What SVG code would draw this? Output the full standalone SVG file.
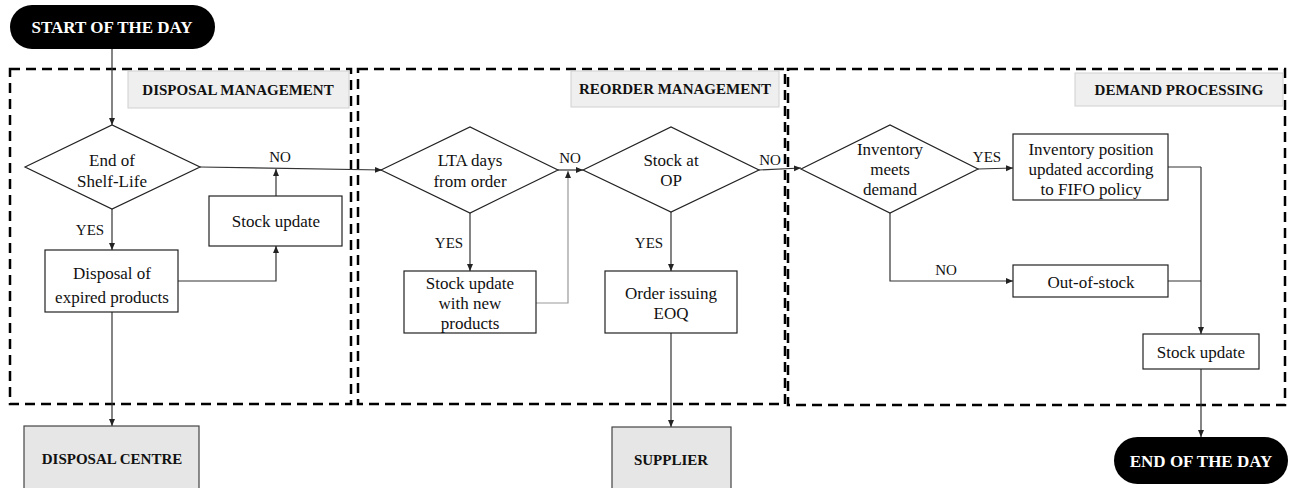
<svg xmlns="http://www.w3.org/2000/svg" width="1289" height="488" viewBox="0 0 1289 488">
<style>
.t{font-family:"Liberation Serif","Times New Roman",serif;font-size:17px;fill:#111;text-anchor:middle}
.e{font-family:"Liberation Serif","Times New Roman",serif;font-size:15px;fill:#111;text-anchor:middle}
.b{font-family:"Liberation Serif","Times New Roman",serif;font-size:15px;font-weight:bold;fill:#111;text-anchor:middle}
.w{font-family:"Liberation Serif","Times New Roman",serif;font-size:17px;font-weight:bold;fill:#fff;text-anchor:middle}
.n{fill:#fff;stroke:#222;stroke-width:1.2}
.g{fill:#e6e6e6;stroke:#444;stroke-width:1.2}
.lab{fill:#efefef;stroke:#d0d0d0;stroke-width:1}
.zone{fill:none;stroke:#000;stroke-width:2.5;stroke-dasharray:10 6}
.c{fill:none;stroke:#333;stroke-width:1.2;marker-end:url(#ah)}
.cn{fill:none;stroke:#333;stroke-width:1.2}
</style>
<defs>
<marker id="ah" markerWidth="8" markerHeight="8" refX="7" refY="4" orient="auto" markerUnits="userSpaceOnUse">
<path d="M0,1 L7,4 L0,7 Z" fill="#222"/>
</marker>
</defs>
<g id="zones">
<rect class="zone" x="10" y="69" width="341" height="335"/>
<rect class="zone" x="358" y="69" width="427" height="335"/>
<rect class="zone" x="788" y="69" width="497" height="336"/>
</g>
<g id="label-disposal"><rect class="lab" x="128" y="71" width="221" height="37"/><text class="b" x="238" y="95">DISPOSAL MANAGEMENT</text></g>
<g id="label-reorder"><rect class="lab" x="571" y="71" width="208" height="36"/><text class="b" x="675" y="94">REORDER MANAGEMENT</text></g>
<g id="label-demand"><rect class="lab" x="1075" y="73" width="208" height="33"/><text class="b" x="1179" y="95">DEMAND PROCESSING</text></g>
<g id="connectors">
<path class="c" d="M112,49 V125"/>
<path class="c" d="M200,167 L382,170"/>
<path class="c" d="M276,196 V169"/>
<path class="c" d="M112,209 V250"/>
<path class="c" d="M178,281 H276 V246"/>
<path class="c" d="M112,312 V426"/>
<path class="c" d="M470,213 V271"/>
<path class="c" d="M558,170 L583,170"/>
<path fill="none" stroke="#999" stroke-width="1.2" marker-end="url(#ah)" d="M536,303 H568 V171"/>
<path class="c" d="M671,212 V271"/>
<path class="c" d="M671,333 V427"/>
<path class="c" d="M759,170 L801,168"/>
<path class="c" d="M978,169 L1013,168"/>
<path class="c" d="M890,213 V281 H1013"/>
<path class="cn" d="M1168,167 H1201"/>
<path class="cn" d="M1168,281 H1201"/>
<path class="c" d="M1201,167 V334"/>
<path class="c" d="M1201,369 V437"/>
</g>
<g id="edge-labels">
<text class="e" x="280" y="162">NO</text>
<text class="e" x="90" y="235">YES</text>
<text class="e" x="570" y="163">NO</text>
<text class="e" x="449" y="248">YES</text>
<text class="e" x="770" y="165">NO</text>
<text class="e" x="649" y="248">YES</text>
<text class="e" x="987" y="162">YES</text>
<text class="e" x="946" y="275">NO</text>
</g>
<g id="start"><rect x="10" y="5" width="205" height="44" rx="22" fill="#000"/><text class="w" x="112" y="33">START OF THE DAY</text></g>
<g id="end-shelf-life"><polygon class="n" points="25,167 112,125 200,167 112,209"/><text class="t" x="112" y="166">End of</text><text class="t" x="112" y="187">Shelf-Life</text></g>
<g id="stock-update-1"><rect class="n" x="209" y="196" width="133" height="50"/><text class="t" x="276" y="227">Stock update</text></g>
<g id="disposal"><rect class="n" x="45" y="250" width="133" height="62"/><text class="t" x="112" y="279">Disposal of</text><text class="t" x="112" y="303">expired products</text></g>
<g id="disposal-centre"><rect class="g" x="24" y="426" width="175" height="70"/><text class="b" x="112" y="464">DISPOSAL CENTRE</text></g>
<g id="lta"><polygon class="n" points="381,170 470,127 558,170 470,213"/><text class="t" x="470" y="166">LTA days</text><text class="t" x="470" y="187">from order</text></g>
<g id="stock-update-new"><rect class="n" x="404" y="271" width="132" height="62"/><text class="t" x="470" y="289">Stock update</text><text class="t" x="470" y="309">with new</text><text class="t" x="470" y="329">products</text></g>
<g id="stock-op"><polygon class="n" points="583,170 671,127 759,170 671,212"/><text class="t" x="671" y="166">Stock at</text><text class="t" x="671" y="186">OP</text></g>
<g id="order"><rect class="n" x="605" y="271" width="132" height="62"/><text class="t" x="671" y="299">Order issuing</text><text class="t" x="671" y="319">EOQ</text></g>
<g id="supplier"><rect class="g" x="612" y="427" width="119" height="69"/><text class="b" x="671" y="465">SUPPLIER</text></g>
<g id="inv-meets"><polygon class="n" points="801,169 890,125 978,169 890,213"/><text class="t" x="890" y="155">Inventory</text><text class="t" x="890" y="175">meets</text><text class="t" x="890" y="195">demand</text></g>
<g id="inv-position"><rect class="n" x="1013" y="134" width="155" height="66"/><text class="t" x="1091" y="155">Inventory position</text><text class="t" x="1091" y="175">updated according</text><text class="t" x="1091" y="195">to FIFO policy</text></g>
<g id="out-of-stock"><rect class="n" x="1013" y="265" width="155" height="32"/><text class="t" x="1091" y="288">Out-of-stock</text></g>
<g id="stock-update-2"><rect class="n" x="1143" y="334" width="116" height="35"/><text class="t" x="1201" y="358">Stock update</text></g>
<g id="end"><rect x="1114" y="437" width="174" height="47" rx="23.5" fill="#000"/><text class="w" x="1201" y="467">END OF THE DAY</text></g>
</svg>
